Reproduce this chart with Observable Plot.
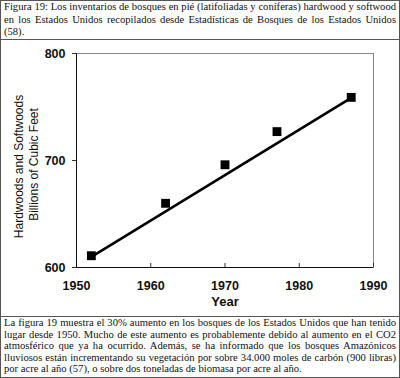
<!DOCTYPE html>
<html><head><meta charset="utf-8">
<script src="https://cdn.jsdelivr.net/npm/d3@7"></script>
<script src="https://cdn.jsdelivr.net/npm/@observablehq/plot@0.6"></script>
<style>
body{margin:0;background:#fff;}
#fig{width:398px;height:376px;border:1px solid #555;position:relative;overflow:hidden;background:#fff;}
.cap{height:38px;border-bottom:1px solid #555;padding:0 3px;font-family:"Liberation Serif","Times New Roman",serif;font-size:10.6px;line-height:12.7px;color:#111;}
.txt{border-top:1px solid #555;padding:0 3px;font-family:"Liberation Serif","Times New Roman",serif;font-size:10.6px;line-height:11.6px;color:#111;}
.ln{text-align:justify;text-align-last:justify;white-space:nowrap;}
.ln.last{text-align-last:left;}
#chart svg{display:block;}
</style></head>
<body>
<div id="fig">
  <div class="cap" id="cap"></div>
  <div id="chart"></div>
  <div class="txt" id="txt"></div>
</div>
<script>
const years = [1952, 1962, 1970, 1977, 1987];
const volumes = [611, 660, 696, 727, 759];
const trendYears = [1952, 1987];
const trendVolumes = [610, 758.6];
const xTicks = [1950, 1960, 1970, 1980, 1990];
const yTicks = [600, 700, 800];
const xTitle = "Year";
const yTitleLine1 = "Hardwoods and Softwoods";
const yTitleLine2 = "Billions of Cubic Feet";
const captionLines = [
  "Figura 19: Los inventarios de bosques en pié (latifoliadas y coníferas) hardwood y softwood",
  "en los Estados Unidos recopilados desde Estadísticas de Bosques de los Estados Unidos",
  "(58)."
];
const bodyLines = [
  "La figura 19 muestra el 30% aumento en los bosques de los Estados Unidos que han tenido",
  "lugar desde 1950. Mucho de este aumento es probablemente debido al aumento en el CO2",
  "atmosférico que ya  ha ocurrido. Además, se ha informado que los bosques Amazónicos",
  "lluviosos están incrementando su vegetación por sobre 34.000 moles de carbón (900 libras)",
  "por acre al año (57), o sobre dos toneladas de biomasa por acre al año."
];

function fillLines(el, lines) {
  lines.forEach((t, i) => {
    const d = document.createElement("div");
    d.className = "ln" + (i === lines.length - 1 ? " last" : "");
    d.textContent = t;
    el.appendChild(d);
  });
}
fillLines(document.getElementById("cap"), captionLines);
fillLines(document.getElementById("txt"), bodyLines);

const data = years.map((y, i) => ({year: y, vol: volumes[i]}));
const trend = trendYears.map((y, i) => ({year: y, vol: trendVolumes[i]}));

const chart = Plot.plot({
  width: 398,
  height: 276,
  marginLeft: 75,
  marginRight: 26,
  marginTop: 13,
  marginBottom: 49,
  style: {fontFamily: "'Liberation Sans', Arial, sans-serif", fontSize: "12.5px", color: "#111", background: "#fff"},
  x: {domain: [1950, 1990], ticks: xTicks, label: null},
  y: {domain: [600, 800], ticks: yTicks, label: null},
  marks: [
    Plot.frame({stroke: "#888"}),
    Plot.axisY({ticks: yTicks, tickSize: 4, tickPadding: 7, tickFormat: d => String(d), fontWeight: "bold", label: null, stroke: "#333"}),
    Plot.axisX({ticks: xTicks, tickSize: -4, tickPadding: 18, tickFormat: d => String(d), fontWeight: "bold", label: null, stroke: "#333"}),
    Plot.ruleX([1950], {stroke: "#111"}),
    Plot.ruleY([600], {stroke: "#111"}),
    Plot.line(trend, {x: "year", y: "vol", stroke: "#000", strokeWidth: 2.6}),
    Plot.dot(data, {x: "year", y: "vol", symbol: "square", r: 5, fill: "#000", stroke: "none"}),
    Plot.text([xTitle], {frameAnchor: "bottom", dy: 34, lineAnchor: "middle", fontWeight: "bold", fontSize: 13, fill: "#111"}),
    Plot.text([yTitleLine1], {frameAnchor: "left", textAnchor: "middle", lineAnchor: "middle", dx: -57, dy: 6, rotate: -90, fontSize: 12, fill: "#111"}),
    Plot.text([yTitleLine2], {frameAnchor: "left", textAnchor: "middle", lineAnchor: "middle", dx: -42, dy: 4, rotate: -90, fontSize: 12, fill: "#111"})
  ]
});
document.getElementById("chart").appendChild(chart);
</script>
</body></html>
